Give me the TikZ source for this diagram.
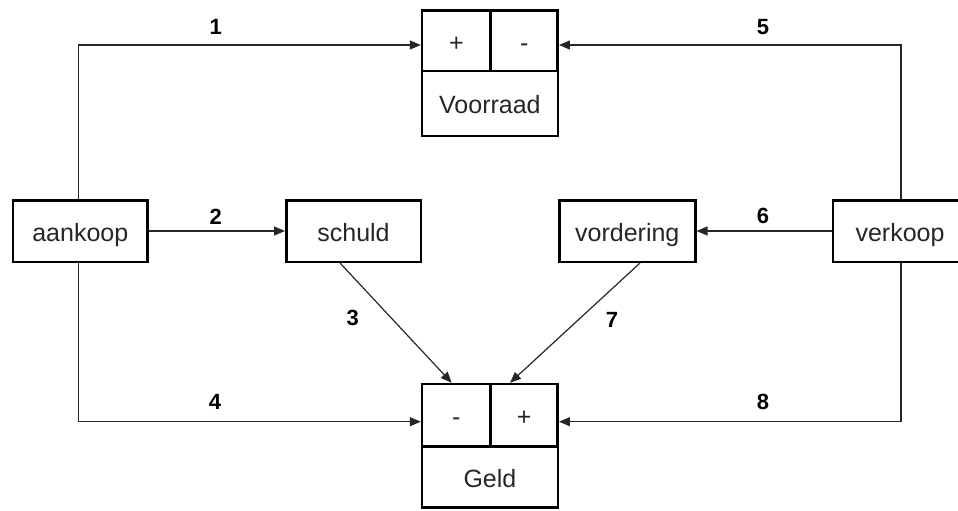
\documentclass[tikz,border=0pt]{standalone}
\usepackage{fontspec}
\setmainfont{Liberation Sans}
\usetikzlibrary{arrows.meta,calc}
\begin{document}
\begin{tikzpicture}[x=1pt,y=-1pt,
  box/.style={draw=black,line width=2.5pt,inner sep=0pt,text=black!85,text height=21pt,text depth=0pt,font=\fontsize{25}{28}\selectfont},
  conn/.style={draw=black!85,line width=1.2pt},
  arr/.style={conn,-{Triangle[length=11pt,width=9pt]}},
  num/.style={font=\fontsize{22}{25}\selectfont\bfseries,inner sep=0pt}]
\useasboundingbox (0,0) rectangle (958,511);
\clip (0,0) rectangle (958,511);
% side boxes
\node[box,minimum width=134.2pt,minimum height=61.5pt] (aankoop) at (80.3,231) {aankoop};
\node[box,minimum width=134.5pt,minimum height=61.5pt] (schuld) at (353.5,231) {schuld};
\node[box,minimum width=136pt,minimum height=61.5pt] (vordering) at (627.3,231) {vordering};
\node[box,minimum width=134.2pt,minimum height=61.5pt] (verkoop) at (900,231) {verkoop};
% Voorraad
\node[box,minimum width=68.7pt,minimum height=60.5pt] (vplus) at (456.4,40.8) {+};
\node[box,minimum width=67pt,minimum height=60.5pt] (vmin) at (524.2,40.8) {-};
\node[box,minimum width=135.7pt,minimum height=64.7pt] (vname) at (489.9,103.4) {Voorraad};
% Geld
\node[box,minimum width=68.7pt,minimum height=62.7pt] (gmin) at (456.4,415.4) {-};
\node[box,minimum width=67pt,minimum height=62.7pt] (gplus) at (524.2,415.4) {+};
\node[box,minimum width=135.7pt,minimum height=61pt] (gname) at (489.9,477.2) {Geld};
% corners
\coordinate (c1) at (78.7,45);
\coordinate (c5) at (901,45);
\coordinate (c4) at (78.7,421.7);
\coordinate (c8) at (901,421.7);
% connectors
\draw[arr] (aankoop.north -| c1) -- (c1) -- (c1 -| vplus.west);
\draw[arr] (verkoop.north -| c5) -- (c5) -- (c5 -| vmin.east);
\draw[arr] (aankoop.south -| c4) -- (c4) -- (c4 -| gmin.west);
\draw[arr] (verkoop.south -| c8) -- (c8) -- (c8 -| gplus.east);
\draw[arr] (aankoop.east) -- (schuld.west);
\draw[arr] (verkoop.west) -- (vordering.east);
\draw[arr] ([xshift=-13.5pt]schuld.south) -- ([xshift=-4.7pt]gmin.north);
\draw[arr] ([xshift=12.7pt]vordering.south) -- ([xshift=-14.2pt]gplus.north);
% labels
\node[num] (l1) at (215.7,27) {1};
\node[num] (l2) at (215.7,216.7) {2};
\node[num] (l3) at (352.7,318) {3};
\node[num] (l4) at (215,401.7) {4};
\node[num] (l5) at (763,27) {5};
\node[num] (l6) at (763,216) {6};
\node[num] (l7) at (612,320) {7};
\node[num] (l8) at (763,402) {8};
\end{tikzpicture}
\end{document}
